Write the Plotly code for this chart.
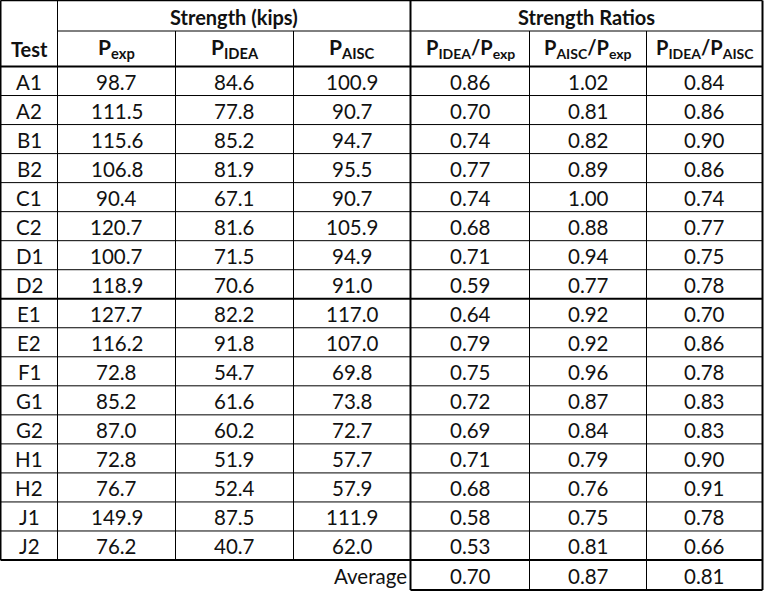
import plotly.graph_objects as go

# ---- data ----
tests = ["A1", "A2", "B1", "B2", "C1", "C2", "D1", "D2", "E1", "E2",
         "F1", "G1", "G2", "H1", "H2", "J1", "J2"]
p_exp = [98.7, 111.5, 115.6, 106.8, 90.4, 120.7, 100.7, 118.9, 127.7, 116.2,
         72.8, 85.2, 87.0, 72.8, 76.7, 149.9, 76.2]
p_idea = [84.6, 77.8, 85.2, 81.9, 67.1, 81.6, 71.5, 70.6, 82.2, 91.8,
          54.7, 61.6, 60.2, 51.9, 52.4, 87.5, 40.7]
p_aisc = [100.9, 90.7, 94.7, 95.5, 90.7, 105.9, 94.9, 91.0, 117.0, 107.0,
          69.8, 73.8, 72.7, 57.7, 57.9, 111.9, 62.0]
ratio_idea_exp = [0.86, 0.70, 0.74, 0.77, 0.74, 0.68, 0.71, 0.59, 0.64, 0.79,
                  0.75, 0.72, 0.69, 0.71, 0.68, 0.58, 0.53]
ratio_aisc_exp = [1.02, 0.81, 0.82, 0.89, 1.00, 0.88, 0.94, 0.77, 0.92, 0.92,
                  0.96, 0.87, 0.84, 0.79, 0.76, 0.75, 0.81]
ratio_idea_aisc = [0.84, 0.86, 0.90, 0.86, 0.74, 0.77, 0.75, 0.78, 0.70, 0.86,
                   0.78, 0.83, 0.83, 0.90, 0.91, 0.78, 0.66]
averages = [0.70, 0.87, 0.81]

group_headers = ["Strength (kips)", "Strength Ratios"]
col_headers = ["Test", "P<sub>exp</sub>", "P<sub>IDEA</sub>", "P<sub>AISC</sub>",
               "P<sub>IDEA</sub>/P<sub>exp</sub>", "P<sub>AISC</sub>/P<sub>exp</sub>",
               "P<sub>IDEA</sub>/P<sub>AISC</sub>"]
avg_label = "Average"

# ---- layout geometry (pixels) ----
W, H = 766, 592
col_edges = [0.5, 57.5, 175.5, 293.5, 410.5, 529.5, 646.5, 762.5]
y_top = 0.5
y_mid = 31.0
y_head = 66.5
row_h = (560.0 - 66.5) / len(tests)
y_data_end = y_head + row_h * len(tests)
y_avg_end = 590.0

FONT = "Lato, 'Open Sans', sans-serif"
TXT = "#111111"

shapes = []
def hline(y, x0, x1, w=1):
    shapes.append(dict(type="line", xref="x", yref="y", x0=x0, x1=x1, y0=y, y1=y,
                       line=dict(color="black", width=w)))
def vline(x, y0, y1, w=1):
    shapes.append(dict(type="line", xref="x", yref="y", x0=x, x1=x, y0=y0, y1=y1,
                       line=dict(color="black", width=w)))

# horizontal lines
hline(y_top, col_edges[0], col_edges[-1], 1.5)
hline(y_mid, col_edges[1], col_edges[-1], 1)
hline(y_head, col_edges[0], col_edges[-1], 2)
for i in range(1, len(tests)):
    w = 2 if tests[i - 1] == "D2" else 1
    hline(y_head + i * row_h, col_edges[0], col_edges[-1], w)
hline(y_data_end, col_edges[0], col_edges[-1], 2)
hline(y_avg_end, col_edges[4], col_edges[-1], 2)

# vertical lines
vline(col_edges[0], y_top, y_data_end, 2)
vline(col_edges[1], y_top, y_data_end, 1)
vline(col_edges[2], y_mid, y_data_end, 1)
vline(col_edges[3], y_mid, y_data_end, 1)
vline(col_edges[4], y_top, y_avg_end, 2)
vline(col_edges[5], y_mid, y_avg_end, 1)
vline(col_edges[6], y_mid, y_avg_end, 1)
vline(col_edges[7], y_top, y_avg_end, 2)

annotations = []
def txt(x, y, s, size=20, bold=False, xanchor="center"):
    annotations.append(dict(x=x, y=y, xref="x", yref="y", text=(f"<b>{s}</b>" if bold else s),
                            showarrow=False, xanchor=xanchor, yanchor="middle",
                            font=dict(family=FONT, size=size, color=TXT)))

def cx(j):
    return (col_edges[j] + col_edges[j + 1]) / 2

# group headers
txt((col_edges[1] + col_edges[4]) / 2, (y_top + y_mid) / 2 + 1, group_headers[0], 20, True)
txt((col_edges[4] + col_edges[7]) / 2, (y_top + y_mid) / 2 + 1, group_headers[1], 20, True)

# column headers
txt(cx(0), 49, col_headers[0], 20, True)
for j in range(1, 7):
    txt(cx(j), 48, col_headers[j], 21 if j < 4 else 20, True)

# data
cols = [tests, p_exp, p_idea, p_aisc, ratio_idea_exp, ratio_aisc_exp, ratio_idea_aisc]
fmts = [None, "{:.1f}", "{:.1f}", "{:.1f}", "{:.2f}", "{:.2f}", "{:.2f}"]
for i in range(len(tests)):
    yc = y_head + (i + 0.5) * row_h + 1
    for j, col in enumerate(cols):
        v = col[i]
        s = v if fmts[j] is None else fmts[j].format(v)
        txt(cx(j), yc, s, 20.5)

# average row
yc = (y_data_end + y_avg_end) / 2 + 1
txt(col_edges[4] - 2, yc, avg_label, 20.5, xanchor="right")
for k, v in enumerate(averages):
    txt(cx(4 + k), yc, "{:.2f}".format(v), 20.5)

fig = go.Figure()
fig.update_layout(
    width=W, height=H,
    margin=dict(l=0, r=0, t=0, b=0),
    paper_bgcolor="white", plot_bgcolor="white",
    xaxis=dict(range=[0, W], visible=False, fixedrange=True),
    yaxis=dict(range=[H, 0], visible=False, fixedrange=True),
    shapes=shapes, annotations=annotations, showlegend=False,
)
fig.write_html("out.html", config={"displayModeBar": False},
               post_script="document.body.style.margin='0';document.body.style.overflow='hidden';")
